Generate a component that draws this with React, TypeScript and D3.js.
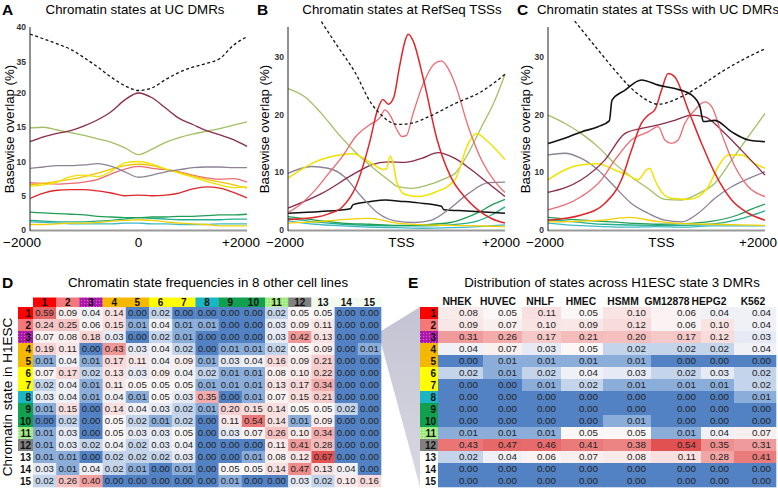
import React from 'react';
import * as d3 from 'd3';

const FONT = "'Liberation Sans', Arial, Helvetica, sans-serif";

// ---------------- Panel A data (x in bp, y in %) ----------------
const gridA = [-2000, -1750, -1500, -1250, -1000, -750, -500, -250, 0, 250, 500, 750, 1000, 1250, 1500, 1750, 2000];
const aDashed = [39.0, 38.3, 37.6, 36.8, 35.6, 32.5, 27.6, 23.5, 21.2, 22.5, 26.5, 30.0, 32.5, 34.3, 35.5, 37.4, 38.6];
const aMaroon = [12.9, 13.6, 14.1, 14.5, 15.2, 16.1, 17.3, 19.0, 20.0, 19.3, 17.8, 16.3, 15.4, 14.5, 13.9, 13.2, 12.2];
const aOlive = [14.9, 15.0, 14.6, 14.2, 13.8, 13.3, 12.8, 12.0, 11.0, 11.8, 12.8, 13.5, 14.0, 14.4, 14.8, 15.3, 15.8];
const aGray = [9.0, 9.2, 9.4, 9.4, 9.5, 9.7, 9.3, 8.5, 7.7, 8.0, 8.5, 8.8, 9.1, 9.2, 9.2, 9.1, 9.1];
const aYellow = [6.4, 6.6, 7.0, 7.8, 8.0, 7.8, 8.6, 9.8, 10.0, 9.6, 8.9, 8.3, 7.7, 7.1, 6.6, 6.2, 6.3];
const aGold = [6.6, 6.8, 7.1, 7.4, 7.8, 8.3, 8.9, 9.4, 9.6, 9.4, 8.9, 8.4, 7.9, 7.4, 7.0, 6.6, 6.1];
const aPink = [6.9, 6.8, 6.7, 6.8, 7.0, 7.4, 8.2, 8.9, 9.3, 9.0, 8.8, 8.5, 8.0, 7.6, 7.4, 7.5, 7.0];
const aRed = [4.6, 5.4, 5.8, 5.9, 5.9, 5.7, 5.4, 5.0, 5.1, 5.0, 5.1, 5.4, 6.0, 6.3, 6.1, 5.5, 4.7];
const aGreen = [2.6, 2.5, 2.4, 2.3, 2.2, 2.0, 1.9, 1.8, 1.8, 1.9, 1.9, 2.0, 2.0, 2.1, 2.2, 2.2, 2.3];
const aTeal = [1.4, 1.3, 1.2, 1.2, 1.2, 1.3, 1.4, 1.6, 1.8, 1.7, 1.6, 1.5, 1.5, 1.5, 1.5, 1.6, 1.6];
const aYellowLow = [0.8, 0.8, 0.9, 1.0, 1.0, 1.1, 1.3, 1.4, 1.5, 1.4, 1.2, 1.0, 0.9, 0.8, 0.6, 0.6, 0.6];
const aCyan = [1.2, 1.1, 1.0, 0.9, 0.9, 0.9, 0.9, 1.0, 1.0, 0.9, 0.9, 0.8, 0.8, 0.8, 0.9, 0.9, 0.9];
const aTicks = [0, 5, 10, 15, 20, 35, 40];
const aXLabels = ['\u22122000', '0', '+2000'];

// ---------------- Panel B data ----------------
const bDashed: [number, number][] = [[-1385, 36.1], [-1077, 31.7], [-769, 27.4], [-462, 21.9], [-277, 19.9], [-154, 18.9], [31, 18.3], [277, 18.5], [585, 19.6], [1077, 21.9], [1569, 24.0], [1800, 25.5], [2000, 27.0]];
const bRed: [number, number][] = [[-2000, 1.8], [-1500, 2.2], [-1250, 2.8], [-1000, 4.0], [-750, 7.5], [-500, 15], [-350, 20.8], [-250, 22.6], [-150, 21.8], [-50, 23], [50, 28], [150, 32.5], [215, 33.9], [300, 32.9], [500, 26], [750, 15.6], [1000, 9.2], [1250, 5.8], [1500, 3.5], [1750, 2.0], [2000, 1.2]];
const bPink: [number, number][] = [[-2000, 3.0], [-1750, 4.6], [-1500, 6.9], [-1250, 9.8], [-1000, 12.7], [-750, 16.2], [-500, 18.2], [-300, 19.5], [-215, 20.8], [-100, 19.6], [0, 17.5], [100, 16.2], [185, 16.4], [300, 20.0], [500, 25.5], [700, 28.8], [831, 29.3], [950, 28.0], [1077, 25.4], [1323, 17.9], [1569, 12.1], [1815, 8.4], [2000, 6.5]];
const bYellow: [number, number][] = [[-2000, 9], [-1750, 10.5], [-1500, 11.8], [-1250, 12.6], [-1000, 13.1], [-800, 13.2], [-600, 12.4], [-400, 11.2], [-250, 10.5], [-180, 10.6], [-120, 12.8], [-60, 11.5], [0, 8.5], [150, 6.2], [400, 5.8], [700, 6.5], [1077, 8.7], [1323, 15.0], [1477, 16.7], [1650, 15.6], [2000, 12.2]];
const bOlive: [number, number][] = [[-2000, 24.5], [-1692, 23.1], [-1385, 20.2], [-1077, 16.7], [-769, 13.6], [-462, 11], [-154, 8.7], [31, 7.5], [277, 7.2], [585, 7.8], [892, 8.9], [1077, 9.8], [1323, 13.3], [1569, 17.9], [1815, 22.5], [2000, 27]];
const bMaroon: [number, number][] = [[-2000, 3.8], [-1385, 6.3], [-769, 9.8], [-462, 11.3], [-154, 11.8], [154, 11.7], [462, 12.4], [769, 13.4], [1077, 12.4], [1385, 10.4], [1692, 8.1], [2000, 5.8]];
const bGray: [number, number][] = [[-2000, 9.8], [-1569, 11], [-1262, 10.7], [-954, 9.2], [-646, 5.8], [-338, 2.9], [-31, 1.6], [338, 1.3], [646, 1.7], [954, 3.5], [1323, 6.3], [1692, 8.2], [2000, 8.3]];
const bBlack: [number, number][] = [[-2000, 2.9], [-1400, 3.2], [-850, 3.7], [-800, 4.4], [-500, 4.9], [-200, 5.2], [50, 5.0], [400, 4.7], [830, 4.1], [870, 3.5], [1300, 3.3], [2000, 2.9]];
const bGreen: [number, number][] = [[-2000, 2.3], [-1500, 1.7], [-1000, 1.2], [-500, 1.0], [0, 0.8], [500, 0.9], [1000, 1.3], [1250, 2.0], [1500, 3.0], [1750, 4.3], [2000, 5.3]];
const bTeal: [number, number][] = [[-2000, 2.0], [-1500, 1.4], [-1000, 1.0], [0, 0.7], [500, 0.7], [1000, 0.9], [1500, 1.6], [1750, 2.6], [2000, 4.0]];
const bYellowLow: [number, number][] = [[-2000, 1.2], [-1500, 1.4], [-1000, 1.8], [-500, 2.0], [0, 1.2], [500, 0.9], [1000, 0.8], [1500, 0.7], [2000, 0.6]];
const bCyan: [number, number][] = [[-2000, 1.6], [-1500, 1.0], [-1000, 0.7], [-500, 0.5], [0, 0.4], [500, 0.3], [1000, 0.4], [1500, 0.6], [2000, 0.9]];

// ---------------- Panel C data ----------------
const cDashed: [number, number][] = [[-1508, 36.2], [-1077, 31.2], [-769, 27.7], [-492, 24.8], [-277, 23.1], [31, 21.8], [462, 23.1], [831, 25.1], [1200, 27.4], [1569, 29.4], [2000, 31.4]];
const cBlack: [number, number][] = [[-2000, 15.0], [-1692, 15.9], [-1385, 17.0], [-1077, 17.9], [-870, 18.9], [-820, 22.5], [-585, 24.2], [-277, 26.0], [31, 25.1], [338, 24.5], [646, 23.4], [800, 21.4], [862, 18.8], [1077, 19.0], [1385, 17.0], [1692, 15.6], [2000, 15.3]];
const cRed: [number, number][] = [[-2000, 1.7], [-1385, 2.6], [-954, 4.6], [-646, 8.7], [-462, 13.8], [-277, 18.5], [-154, 19.9], [-31, 20.8], [92, 24.2], [215, 27.1], [338, 26.5], [585, 20.8], [831, 15], [1077, 9.8], [1385, 5.2], [1692, 2.9], [2000, 1.7]];
const cPink: [number, number][] = [[-2000, 3.5], [-1385, 5.8], [-1015, 8.7], [-769, 12.1], [-462, 15.6], [-154, 17], [31, 17.9], [154, 15.6], [277, 15], [400, 15.6], [523, 18.5], [708, 20.8], [892, 22.2], [1015, 21.4], [1200, 16.7], [1446, 11], [1692, 7.5], [2000, 5.8]];
const cMaroon: [number, number][] = [[-2000, 6.5], [-1385, 8.7], [-954, 12.1], [-585, 16.7], [-277, 17.6], [31, 18.2], [338, 19], [646, 19.9], [892, 19.6], [1200, 17.3], [1569, 13.8], [2000, 9.5]];
const cOlive: [number, number][] = [[-2000, 19.9], [-1692, 18.5], [-1385, 16.7], [-1077, 14.4], [-769, 11.5], [-462, 9.2], [-154, 7.2], [154, 5.3], [462, 5.2], [769, 6.3], [1077, 8.1], [1385, 12.1], [1692, 16.2], [2000, 20.2]];
const cGray: [number, number][] = [[-2000, 13], [-1692, 13.3], [-1385, 12.4], [-1077, 10.4], [-769, 7.5], [-462, 4.6], [-154, 2.9], [154, 1.7], [462, 1.4], [769, 2.9], [1077, 5.5], [1385, 7.5], [1692, 8.9], [2000, 10.1]];
const cYellow: [number, number][] = [[-2000, 8.7], [-1692, 10.4], [-1385, 11.3], [-1077, 11.5], [-769, 10.4], [-523, 9.5], [-338, 8.7], [-185, 10.4], [-123, 10.7], [-31, 8.7], [92, 6.6], [277, 5.5], [585, 5.3], [769, 5.8], [954, 7.5], [1138, 11], [1323, 13], [1569, 13], [1815, 11.5], [2000, 10.7]];
const cGreen: [number, number][] = [[-2000, 2.2], [-1500, 1.8], [-1000, 1.5], [-500, 1.2], [0, 1.0], [500, 1.1], [1000, 1.5], [1500, 2.6], [1750, 3.6], [2000, 4.5]];
const cTeal: [number, number][] = [[-2000, 1.8], [-1500, 1.4], [-1000, 1.0], [0, 0.8], [500, 0.8], [1000, 1.0], [1500, 1.8], [1750, 2.5], [2000, 3.3]];
const cYellowLow: [number, number][] = [[-2000, 1.4], [-1500, 1.5], [-1000, 1.7], [-500, 2.2], [0, 1.5], [500, 1.1], [1000, 1.0], [1500, 0.9], [2000, 0.8]];
const cCyan: [number, number][] = [[-2000, 1.2], [-1500, 0.8], [-1000, 0.6], [-500, 0.5], [0, 0.6], [500, 0.5], [1000, 0.7], [1500, 0.7], [2000, 0.7]];
const bcTicks = [0, 10, 20, 30];
const bcXLabels = ['\u22122000', 'TSS', '+2000'];

// ---------------- Panel D data ----------------
const states = ['1', '2', '3', '4', '5', '6', '7', '8', '9', '10', '11', '12', '13', '14', '15'];
const dMatrix = [
  [0.59, 0.09, 0.04, 0.14, 0.00, 0.02, 0.00, 0.00, 0.00, 0.00, 0.02, 0.05, 0.05, 0.00, 0.00],
  [0.24, 0.25, 0.06, 0.15, 0.01, 0.04, 0.01, 0.01, 0.00, 0.00, 0.03, 0.09, 0.11, 0.00, 0.00],
  [0.07, 0.08, 0.18, 0.03, 0.00, 0.02, 0.01, 0.00, 0.00, 0.00, 0.03, 0.42, 0.13, 0.00, 0.00],
  [0.19, 0.11, 0.00, 0.43, 0.03, 0.04, 0.02, 0.00, 0.01, 0.01, 0.02, 0.05, 0.09, 0.00, 0.01],
  [0.01, 0.04, 0.01, 0.17, 0.11, 0.04, 0.09, 0.01, 0.03, 0.04, 0.16, 0.09, 0.21, 0.00, 0.00],
  [0.07, 0.17, 0.02, 0.13, 0.03, 0.09, 0.04, 0.02, 0.01, 0.01, 0.08, 0.10, 0.22, 0.00, 0.00],
  [0.02, 0.04, 0.01, 0.11, 0.05, 0.05, 0.05, 0.01, 0.01, 0.01, 0.13, 0.17, 0.34, 0.00, 0.00],
  [0.03, 0.04, 0.01, 0.04, 0.01, 0.05, 0.03, 0.35, 0.00, 0.01, 0.07, 0.15, 0.21, 0.00, 0.00],
  [0.01, 0.15, 0.00, 0.14, 0.04, 0.03, 0.02, 0.01, 0.20, 0.15, 0.14, 0.05, 0.05, 0.02, 0.00],
  [0.00, 0.02, 0.00, 0.05, 0.02, 0.01, 0.02, 0.00, 0.11, 0.54, 0.14, 0.01, 0.09, 0.00, 0.00],
  [0.01, 0.03, 0.00, 0.05, 0.03, 0.03, 0.05, 0.00, 0.03, 0.07, 0.26, 0.10, 0.34, 0.00, 0.00],
  [0.01, 0.03, 0.02, 0.04, 0.02, 0.03, 0.04, 0.00, 0.00, 0.00, 0.11, 0.41, 0.28, 0.00, 0.00],
  [0.01, 0.01, 0.00, 0.02, 0.02, 0.02, 0.03, 0.00, 0.00, 0.01, 0.08, 0.12, 0.67, 0.00, 0.00],
  [0.03, 0.01, 0.04, 0.02, 0.01, 0.00, 0.01, 0.00, 0.05, 0.05, 0.14, 0.47, 0.13, 0.04, 0.00],
  [0.02, 0.26, 0.40, 0.00, 0.00, 0.00, 0.00, 0.00, 0.01, 0.00, 0.00, 0.03, 0.02, 0.10, 0.16],
];

// ---------------- Panel E data ----------------
const cellLines = ['NHEK', 'HUVEC', 'NHLF', 'HMEC', 'HSMM', 'GM12878', 'HEPG2', 'K562'];
const eMatrix = [
  [0.08, 0.05, 0.11, 0.05, 0.10, 0.06, 0.04, 0.04],
  [0.09, 0.07, 0.10, 0.09, 0.12, 0.06, 0.10, 0.04],
  [0.31, 0.26, 0.17, 0.21, 0.20, 0.17, 0.12, 0.03],
  [0.04, 0.07, 0.03, 0.05, 0.02, 0.02, 0.02, 0.04],
  [0.00, 0.01, 0.01, 0.01, 0.01, 0.00, 0.00, 0.00],
  [0.02, 0.01, 0.02, 0.04, 0.03, 0.02, 0.03, 0.02],
  [0.00, 0.00, 0.01, 0.02, 0.01, 0.01, 0.01, 0.02],
  [0.00, 0.00, 0.00, 0.00, 0.00, 0.00, 0.00, 0.01],
  [0.00, 0.00, 0.00, 0.00, 0.00, 0.00, 0.00, 0.00],
  [0.00, 0.00, 0.00, 0.00, 0.01, 0.00, 0.00, 0.00],
  [0.01, 0.01, 0.01, 0.05, 0.05, 0.01, 0.04, 0.07],
  [0.43, 0.47, 0.46, 0.41, 0.38, 0.54, 0.35, 0.31],
  [0.02, 0.04, 0.06, 0.07, 0.08, 0.11, 0.28, 0.41],
  [0.00, 0.00, 0.00, 0.00, 0.00, 0.00, 0.00, 0.00],
  [0.00, 0.00, 0.00, 0.00, 0.00, 0.00, 0.00, 0.00],
];

// ---------------- styles ----------------
const COL = {
  red: '#e0262b', pink: '#ee6b73', maroon: '#8c2b4c', olive: '#a3bf63', gray: '#8c8296',
  yellow: '#f2e200', gold: '#f0c400', black: '#111111', green: '#1f9e55', teal: '#22b08c',
  cyan: '#3fb8c8', yellowLow: '#f4cf00',
};
const stateFill = ['#ff0000', '#f4777a', 'url(#patPurple)', '#f5b800', '#f5b800', '#ffff00', '#ffff00',
  '#1ab6c6', '#10a050', '#10a050', 'url(#patGreen)', '#808080', '#ffffff', '#ffffff', '#ffffff'];
const heatColors = ['#5282c4', '#8badda', '#dfe7f4', '#fbf7f7', '#f7d0d0', '#f19e9e', '#e04b4b'];
const dColor = d3.scaleLinear<string>().domain([0, 0.01, 0.025, 0.05, 0.2, 0.4, 0.7]).range(heatColors).clamp(true);
const eColor = d3.scaleLinear<string>().domain([0, 0.01, 0.025, 0.05, 0.15, 0.3, 0.56]).range(heatColors).clamp(true);

type Pt = [number, number];
type Series = { pts: Pt[]; color: string; dashed?: boolean; w?: number };

const onGrid = (arr: number[]): Pt[] => gridA.map((x, i) => [x, arr[i]] as Pt);

function LinePanel(props: {
  x0: number; x1: number; y: d3.ScaleLinear<number, number>; ticks: number[];
  letter: string; letterX: number; title: string; titleX: number;
  xLabels: string[]; xLabelDx: number[]; yLabelX: number; series: Series[];
}) {
  const { x0, x1, y, ticks, letter, letterX, title, titleX, xLabels, xLabelDx, yLabelX, series } = props;
  const x = d3.scaleLinear().domain([-2000, 2000]).range([x0, x1]);
  const line = d3.line<Pt>().x(d => x(d[0])).y(d => y(d[1])).curve(d3.curveMonotoneX);
  const xPos = [-2000, 0, 2000];
  return (
    <g>
      <text x={letterX} y={15} fontSize={15.5} fontWeight="bold" fontFamily={FONT}>{letter}</text>
      <text x={titleX} y={14} fontSize={13.3} textAnchor="middle" fontFamily={FONT}>{title}</text>
      <text transform={`translate(${yLabelX},129) rotate(-90)`} fontSize={13.3} textAnchor="middle" fontFamily={FONT}>Basewise overlap (%)</text>
      {ticks.map(t => (
        <text key={t} x={x0 - 4} y={y(t) + 3} fontSize={8.5} fontWeight="bold" textAnchor="end" fill="#333" fontFamily={FONT}>{t}</text>
      ))}
      {series.map((s, i) => (
        <path key={i} d={line(s.pts) || ''} fill="none" stroke={s.color} strokeWidth={s.w ?? 1.3}
          strokeDasharray={s.dashed ? '3,2.5' : undefined} strokeLinejoin="round" />
      ))}
      <line x1={x0} x2={x1} y1={230.5} y2={230.5} stroke="#9a9a9a" strokeWidth={2} />
      <line x1={x0} x2={x0} y1={27} y2={231} stroke="#222" strokeWidth={1} />
      {xLabels.map((l, i) => (
        <text key={l} x={x(xPos[i]) + xLabelDx[i]} y={247} fontSize={13.5} textAnchor="middle" fontFamily={FONT}>{l}</text>
      ))}
    </g>
  );
}

export default function App() {
  const yA = d3.scaleLinear().domain([0, 20, 35, 40]).range([230, 93, 62, 27]);
  const yBC = d3.scaleLinear().domain([0, 35]).range([230, 28]);

  const seriesA: Series[] = [
    { pts: onGrid(aCyan), color: COL.cyan },
    { pts: onGrid(aTeal), color: COL.teal },
    { pts: onGrid(aGreen), color: COL.green },
    { pts: onGrid(aYellowLow), color: COL.yellowLow },
    { pts: onGrid(aRed), color: COL.red },
    { pts: onGrid(aPink), color: COL.pink },
    { pts: onGrid(aGold), color: COL.gold },
    { pts: onGrid(aYellow), color: COL.yellow },
    { pts: onGrid(aGray), color: COL.gray },
    { pts: onGrid(aOlive), color: COL.olive },
    { pts: onGrid(aMaroon), color: COL.maroon },
    { pts: onGrid(aDashed), color: COL.black, dashed: true },
  ];
  const seriesB: Series[] = [
    { pts: bCyan, color: COL.cyan },
    { pts: bTeal, color: COL.teal },
    { pts: bGreen, color: COL.green },
    { pts: bYellowLow, color: COL.yellowLow },
    { pts: bBlack, color: COL.black, w: 1.5 },
    { pts: bGray, color: COL.gray },
    { pts: bMaroon, color: COL.maroon },
    { pts: bOlive, color: COL.olive },
    { pts: bYellow, color: COL.yellow, w: 1.5 },
    { pts: bPink, color: COL.pink },
    { pts: bRed, color: COL.red, w: 1.5 },
    { pts: bDashed, color: COL.black, dashed: true },
  ];
  const seriesC: Series[] = [
    { pts: cCyan, color: COL.cyan },
    { pts: cTeal, color: COL.teal },
    { pts: cGreen, color: COL.green },
    { pts: cYellowLow, color: COL.yellowLow },
    { pts: cGray, color: COL.gray },
    { pts: cOlive, color: COL.olive },
    { pts: cYellow, color: COL.yellow, w: 1.5 },
    { pts: cMaroon, color: COL.maroon },
    { pts: cPink, color: COL.pink },
    { pts: cRed, color: COL.red, w: 1.5 },
    { pts: cBlack, color: COL.black, w: 1.6 },
    { pts: cDashed, color: COL.black, dashed: true },
  ];

  // heatmap layouts
  const rowY0 = 307, rowH = 12;
  const dX0 = 33, dCW = 23.2;
  const eEdges = [438, 483, 522, 561, 603, 651, 701, 734, 776];
  const eHeadX = [457, 498, 540, 581, 623, 667, 709, 753];

  return (
    <svg width={778} height={488} style={{ position: 'absolute', left: 0, top: 0, background: '#fff' }} fontFamily={FONT}>
      <defs>
        <pattern id="patPurple" width="3" height="3" patternUnits="userSpaceOnUse">
          <rect width="3" height="3" fill="#b01cae" />
          <rect x="0" y="0" width="1" height="1" fill="#d85ad4" />
          <rect x="1.5" y="1.5" width="1" height="1" fill="#8a0f88" />
        </pattern>
        <pattern id="patGreen" width="3" height="3" patternUnits="userSpaceOnUse">
          <rect width="3" height="3" fill="#a4ee84" />
          <rect x="0" y="0" width="1" height="1" fill="#d4fbc2" />
          <rect x="1.5" y="1.5" width="1" height="1" fill="#7fd760" />
        </pattern>
        <linearGradient id="wedgeGrad" x1="0" y1="0" x2="0" y2="1">
          <stop offset="0" stopColor="#c3c3d3" />
          <stop offset="1" stopColor="#d9d9e3" />
        </linearGradient>
      </defs>
      <rect width={778} height={488} fill="#fff" />

      <LinePanel x0={30} x1={247} y={yA} ticks={aTicks} letter="A" letterX={2} title="Chromatin states at UC DMRs"
        titleX={135} xLabels={aXLabels} xLabelDx={[-8, 0, -6]} yLabelX={14} series={seriesA} />
      <LinePanel x0={288} x1={505} y={yBC} ticks={bcTicks} letter="B" letterX={257} title="Chromatin states at RefSeq TSSs"
        titleX={402} xLabels={bcXLabels} xLabelDx={[-3, 5, -4]} yLabelX={269} series={seriesB} />
      <LinePanel x0={548} x1={765} y={yBC} ticks={bcTicks} letter="C" letterX={517} title="Chromatin states at TSSs with UC DMRs"
        titleX={658} xLabels={bcXLabels} xLabelDx={[-3, 5, -7]} yLabelX={530} series={seriesC} />

      {/* wedge connecting D row 3 to E */}
      <polygon points={`381,331 420,307 420,487 381,343`} fill="url(#wedgeGrad)" />

      {/* Panel D */}
      <text x={2} y={288} fontSize={15.5} fontWeight="bold">D</text>
      <text x={208} y={287} fontSize={13.3} textAnchor="middle">Chromatin state frequencies in 8 other cell lines</text>
      <text transform={`translate(12,397) rotate(-90)`} fontSize={13.5} textAnchor="middle">Chromatin state in H1ESC</text>
      {states.map((s, j) => (
        <g key={'dh' + j}>
          <rect x={dX0 + j * dCW} y={297.5} width={dCW + 0.3} height={9.5} fill={j >= 12 ? '#f2fbef' : stateFill[j]} />
          <text x={dX0 + j * dCW + dCW / 2} y={306} fontSize={10} fontWeight="bold" textAnchor="middle" fill="#111">{s}</text>
        </g>
      ))}
      {states.map((s, i) => (
        <g key={'dr' + i}>
          <rect x={18} y={rowY0 + i * rowH} width={15} height={rowH + 0.3} fill={stateFill[i]} />
          <text x={31} y={rowY0 + i * rowH + 9.5} fontSize={10} fontWeight="bold" textAnchor="end" fill="#111">{s}</text>
          {dMatrix[i].map((v, j) => (
            <g key={j}>
              <rect x={dX0 + j * dCW} y={rowY0 + i * rowH} width={dCW + 0.3} height={rowH + 0.3} fill={dColor(v)} />
              <text x={dX0 + j * dCW + dCW / 2} y={rowY0 + i * rowH + 9.3} fontSize={9.6} textAnchor="middle" fill="#222">{v.toFixed(2)}</text>
            </g>
          ))}
        </g>
      ))}

      {/* Panel E */}
      <text x={408} y={288} fontSize={15.5} fontWeight="bold">E</text>
      <text x={612} y={287} fontSize={13.3} textAnchor="middle">Distribution of states across H1ESC state 3 DMRs</text>
      {cellLines.map((c, j) => (
        <text key={c} x={eHeadX[j]} y={305} fontSize={10.3} fontWeight="bold" textAnchor="middle" fill="#111">{c}</text>
      ))}
      {states.map((s, i) => (
        <g key={'er' + i}>
          <rect x={420} y={rowY0 + i * rowH} width={18} height={rowH + 0.3} fill={stateFill[i]} />
          <text x={436} y={rowY0 + i * rowH + 9.5} fontSize={10} fontWeight="bold" textAnchor="end" fill="#111">{s}</text>
          {eMatrix[i].map((v, j) => (
            <g key={j}>
              <rect x={eEdges[j]} y={rowY0 + i * rowH} width={eEdges[j + 1] - eEdges[j] + 0.3} height={rowH + 0.3} fill={eColor(v)} />
              <text x={eEdges[j + 1] - 5} y={rowY0 + i * rowH + 9.3} fontSize={9.8} textAnchor="end" fill="#222">{v.toFixed(2)}</text>
            </g>
          ))}
        </g>
      ))}
    </svg>
  );
}
